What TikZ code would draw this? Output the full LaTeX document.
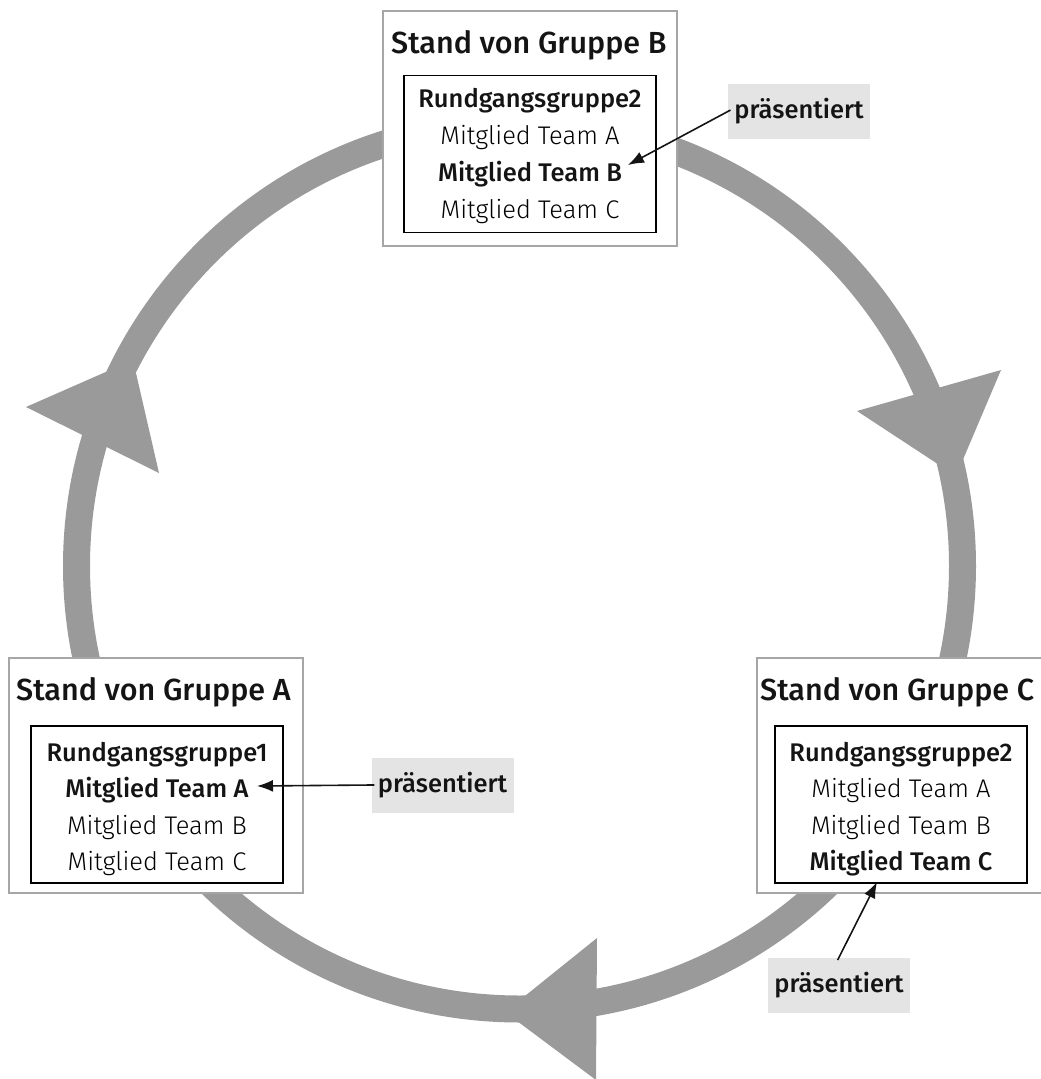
\documentclass[tikz,border=0pt]{standalone}
\usepackage{fontspec}
\setmainfont{Fira Sans}[UprightFont=* Light, BoldFont=* Medium]
\usetikzlibrary{arrows.meta}
\definecolor{ringgray}{HTML}{9A9A9A}
\definecolor{labgray}{HTML}{E4E4E4}
\definecolor{framegray}{HTML}{A6A6A6}
\begin{document}
\begin{tikzpicture}[x=1pt,y=-1pt,
  outerbox/.style={draw=framegray,line width=1.8pt,fill=white,minimum width=294pt,minimum height=235pt,inner sep=0pt},
  innerbox/.style={draw=black,line width=1.1pt,fill=white,minimum width=252pt,minimum height=157pt,inner sep=0pt},
  titletext/.style={anchor=base west,inner sep=0pt,font=\fontsize{30.5}{35}\selectfont\bfseries,text=black!92},
  linetext/.style={anchor=base,inner sep=0pt,font=\fontsize{25.5}{30}\selectfont,text=black},
  boldline/.style={linetext,font=\fontsize{25.5}{30}\selectfont\bfseries,text=black!92},
  labelbox/.style={fill=labgray,minimum width=142pt,minimum height=55pt,inner sep=0pt,font=\fontsize{25.5}{30}\selectfont\bfseries,text=black!92},
  pointer/.style={draw=black!92,line width=1.6pt,-{Latex[length=16pt,width=12pt]},shorten <=-3pt},
  headtri/.style={fill=ringgray}
]
\useasboundingbox (0,0) rectangle (1041,1079);
% ring
\draw[ringgray,line width=27pt] (519.5,566) circle[radius=443];
% big arrowheads
\fill[headtri] (26,407) -- (133,360) -- (159,473) -- cycle;
\fill[headtri] (857,411) -- (1001,370) -- (956,476) -- cycle;
\fill[headtri] (505,1012) -- (597,938) -- (596,1080) -- cycle;

% Stand B
\node[outerbox] (oB) at (530,128.5) {};
\node[titletext] (tB) at (391,53) {Stand von Gruppe B};
\node[innerbox] (iB) at (530,154) {};
\node[boldline] (b1) at (530,107) {Rundgangsgruppe2};
\node[linetext] (b2) at (530,144) {Mitglied Team A};
\node[boldline] (b3) at (530,181) {Mitglied Team B};
\node[linetext] (b4) at (530,218) {Mitglied Team C};

% Stand A
\node[outerbox] (oA) at (156,775.5) {};
\node[titletext] (tA) at (16,700) {Stand von Gruppe A};
\node[innerbox] (iA) at (157,804.5) {};
\node[boldline] (a1) at (157,761) {Rundgangsgruppe1};
\node[boldline] (a2) at (157,797.5) {Mitglied Team A};
\node[linetext] (a3) at (157,834) {Mitglied Team B};
\node[linetext] (a4) at (157,870.5) {Mitglied Team C};

% Stand C
\node[outerbox] (oC) at (904,775.5) {};
\node[titletext] (tC) at (760,700) {Stand von Gruppe C};
\node[innerbox] (iC) at (901,804.5) {};
\node[boldline] (c1) at (901,761) {Rundgangsgruppe2};
\node[linetext] (c2) at (901,797.5) {Mitglied Team A};
\node[linetext] (c3) at (901,834) {Mitglied Team B};
\node[boldline] (c4) at (901,870.5) {Mitglied Team C};

% labels
\node[labelbox] (lB) at (799,111.5) {präsentiert};
\node[labelbox] (lA) at (442.5,785) {präsentiert};
\node[labelbox] (lC) at (839,985) {präsentiert};

\coordinate (tipB) at (628,165);
\coordinate (tipA) at (257,786);
\coordinate (tipC) at (877,882);
\draw[pointer] (lB.west) -- (tipB);
\draw[pointer] (lA.west) -- (tipA);
\draw[pointer] (lC.north) -- (tipC);
\end{tikzpicture}
\end{document}
